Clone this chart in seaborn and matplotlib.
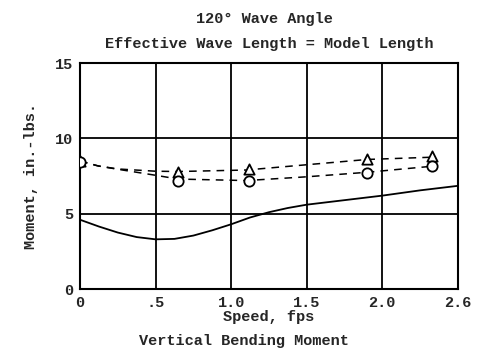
import numpy as np
import pandas as pd
import matplotlib
matplotlib.use("Agg")
import matplotlib.pyplot as plt
import seaborn as sns

# solid curve
solid_x = [0, 0.125, 0.25, 0.375, 0.5, 0.625, 0.75, 0.875, 1.0, 1.125,
           1.25, 1.375, 1.5, 1.75, 2.0, 2.25, 2.5]
solid_y = [4.6, 4.15, 3.75, 3.45, 3.3, 3.33, 3.55, 3.9, 4.3, 4.75,
           5.1, 5.38, 5.6, 5.9, 6.2, 6.55, 6.85]

# dashed curves
tri_curve_x = [0, 0.12, 0.25, 0.5, 0.65, 1.1, 1.5, 1.9, 2.33]
tri_curve_y = [8.5, 8.17, 7.97, 7.82, 7.8, 7.9, 8.25, 8.6, 8.75]
circ_curve_x = [0, 0.12, 0.25, 0.5, 0.65, 1.1, 1.5, 1.9, 2.33]
circ_curve_y = [8.5, 8.17, 7.95, 7.55, 7.3, 7.2, 7.45, 7.75, 8.15]

# measured points
tri_x = [0, 0.65, 1.12, 1.9, 2.33]
tri_y = [8.5, 7.8, 7.95, 8.6, 8.8]
circ_x = [0, 0.65, 1.12, 1.9, 2.33]
circ_y = [8.45, 7.2, 7.15, 7.7, 8.15]

xticks = [0, 0.5, 1.0, 1.5, 2.0, 2.5]
xtick_labels = ["0", ".5", "1.0", "1.5", "2.0", "2.6"]
yticks = [0, 5, 10, 15]

sns.set_style("white")
plt.rcParams["font.family"] = ["Liberation Mono", "DejaVu Sans Mono"]
plt.rcParams["font.weight"] = "bold"
plt.rcParams["axes.labelweight"] = "bold"

fig = plt.figure(figsize=(4.85, 3.56), dpi=100)
ax = fig.add_axes([0.165, 0.188, 0.779, 0.635])

sns.lineplot(x=solid_x, y=solid_y, ax=ax, color="black", lw=1.3)
sns.lineplot(x=tri_curve_x, y=tri_curve_y, ax=ax, color="black", lw=1.1,
             linestyle=(0, (5, 4)))
sns.lineplot(x=circ_curve_x, y=circ_curve_y, ax=ax, color="black", lw=1.1,
             linestyle=(0, (5, 4)))
sns.scatterplot(x=tri_x, y=tri_y, ax=ax, marker="^", s=55,
                facecolor="white", edgecolor="black", linewidth=1.3, zorder=5)
sns.scatterplot(x=circ_x, y=circ_y, ax=ax, marker="o", s=55,
                facecolor="white", edgecolor="black", linewidth=1.3, zorder=5)

ax.set_xlim(0, 2.5)
ax.set_ylim(0, 15)
ax.set_xticks(xticks)
ax.set_xticklabels(xtick_labels)
ax.set_yticks(yticks)
ax.tick_params(length=0, labelsize=11, pad=5)
ax.grid(True, color="black", lw=1.3)
for s in ax.spines.values():
    s.set_color("black")
    s.set_linewidth(1.5)

ax.set_xlabel("Speed, fps", fontsize=11, labelpad=0)
ax.set_ylabel("Moment, in.-lbs.", fontsize=11, labelpad=12)

fig.text(0.545, 0.935, "120\u00b0 Wave Angle", ha="center", fontsize=11)
fig.text(0.555, 0.865, "Effective Wave Length = Model Length", ha="center", fontsize=11)
fig.text(0.503, 0.03, "Vertical Bending Moment", ha="center", fontsize=11)

fig.savefig("out.png", dpi=100)
